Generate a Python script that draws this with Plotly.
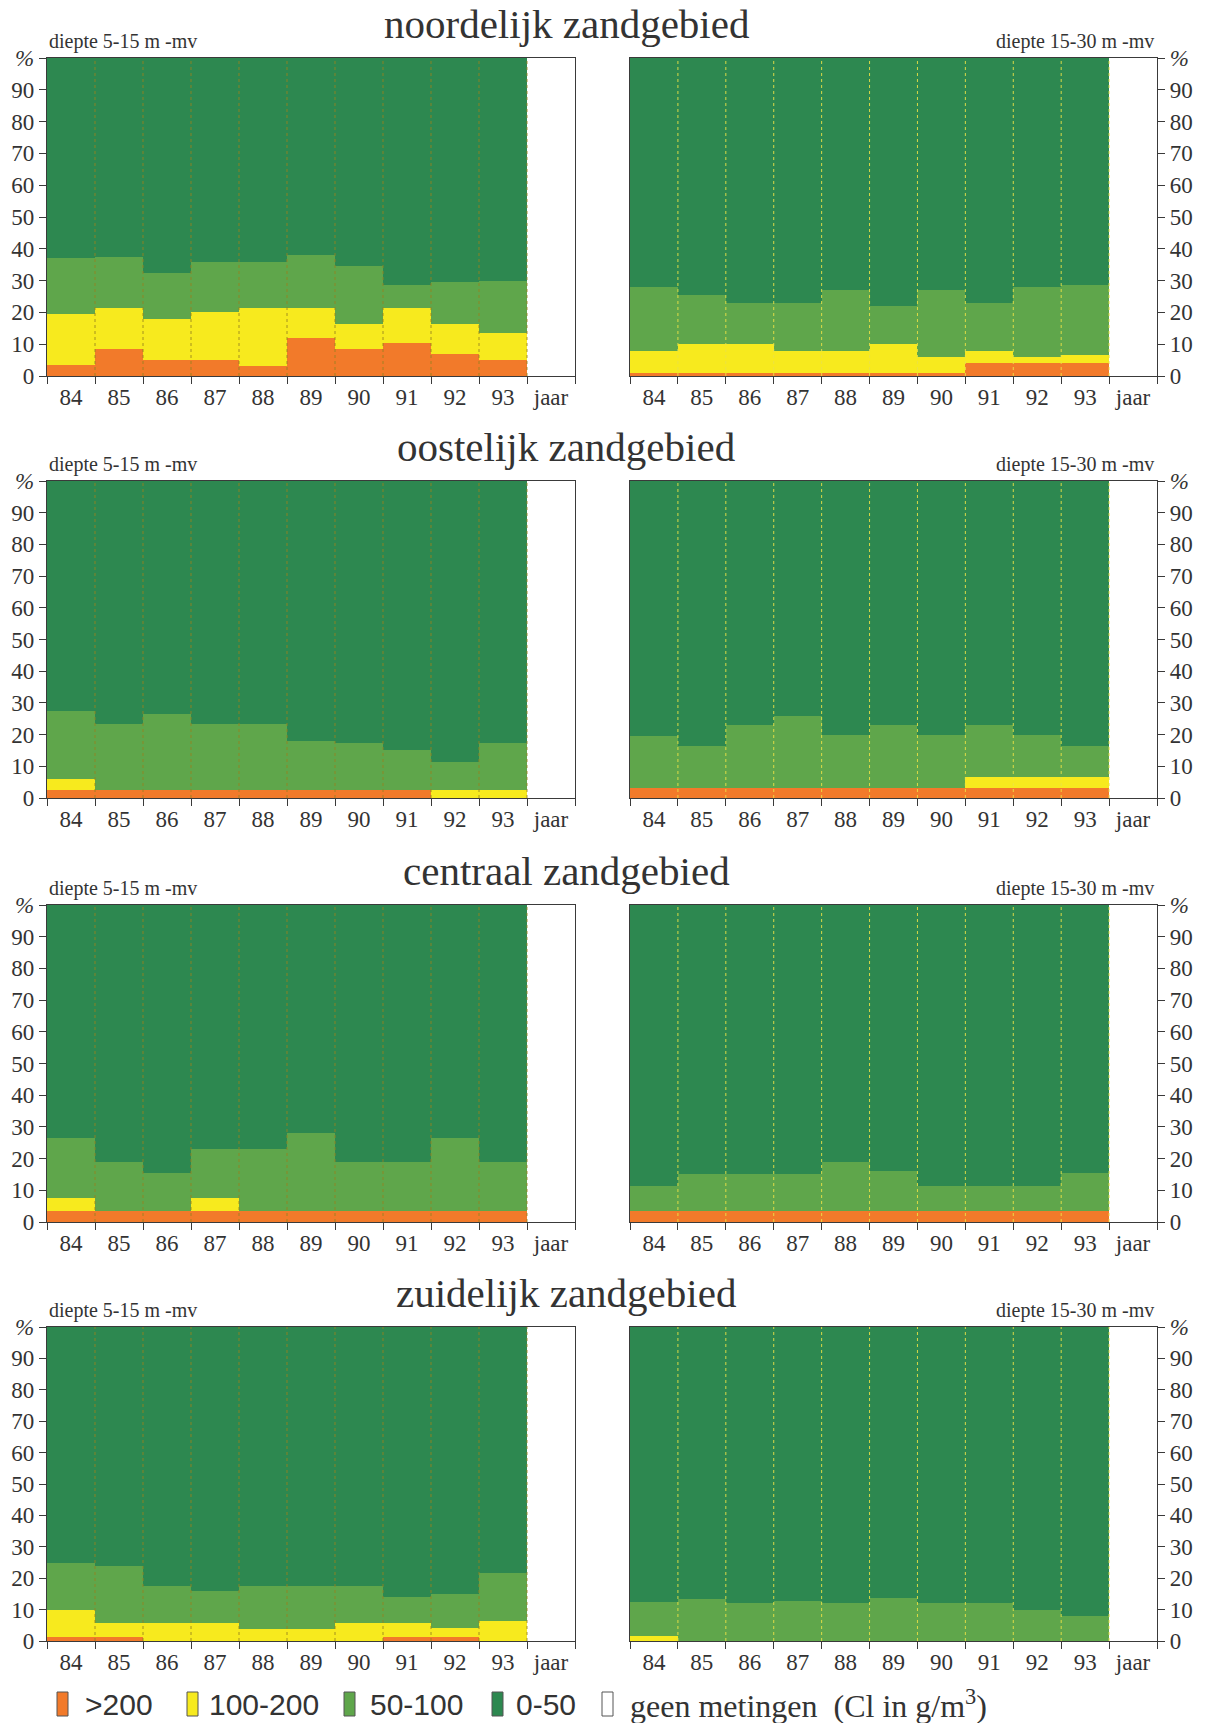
import plotly.graph_objects as go

# ---------------- data ----------------
years = ["84", "85", "86", "87", "88", "89", "90", "91", "92", "93"]
categories = years + ["jaar"]
class_labels = [">200", "100-200", "50-100", "0-50"]
class_colors = ["#F27A2A", "#F7EA1E", "#5FA64B", "#2D8850"]
region_titles = ["noordelijk zandgebied", "oostelijk zandgebied",
                 "centraal zandgebied", "zuidelijk zandgebied"]
depth_labels = ["diepte 5-15 m -mv", "diepte 15-30 m -mv"]
y_tickvals = [0, 10, 20, 30, 40, 50, 60, 70, 80, 90, 100]
y_ticktext = ["0", "10", "20", "30", "40", "50", "60", "70", "80", "90", "<i>%</i>"]

# percentages per class (segment heights), per year 84..93
# noordelijk zandgebied, 5-15 m
noord_ondiep_gt200 = [3.5, 8.5, 5, 5, 3, 12, 8.5, 10.5, 7, 5]
noord_ondiep_100_200 = [16, 13, 13, 15, 18.5, 9.5, 8, 11, 9.5, 8.5]
noord_ondiep_50_100 = [17.5, 16, 14.5, 16, 14.5, 16.5, 18, 7, 13, 16.5]
noord_ondiep_0_50 = [63, 62.5, 67.5, 64, 64, 62, 65.5, 71.5, 70.5, 70]
# noordelijk zandgebied, 15-30 m
noord_diep_gt200 = [1, 1, 1, 1, 1, 1, 1, 4, 4, 4]
noord_diep_100_200 = [7, 9, 9, 7, 7, 9, 5, 4, 2, 2.5]
noord_diep_50_100 = [20, 15.5, 13, 15, 19, 12, 21, 15, 22, 22]
noord_diep_0_50 = [72, 74.5, 77, 77, 73, 78, 73, 77, 72, 71.5]
# oostelijk zandgebied, 5-15 m
oost_ondiep_gt200 = [2.5, 2.5, 2.5, 2.5, 2.5, 2.5, 2.5, 2.5, 0, 0]
oost_ondiep_100_200 = [3.5, 0, 0, 0, 0, 0, 0, 0, 2.5, 2.5]
oost_ondiep_50_100 = [21.5, 21, 24, 21, 21, 15.5, 15, 12.5, 9, 15]
oost_ondiep_0_50 = [72.5, 76.5, 73.5, 76.5, 76.5, 82, 82.5, 85, 88.5, 82.5]
# oostelijk zandgebied, 15-30 m
oost_diep_gt200 = [3, 3, 3, 3, 3, 3, 3, 3, 3, 3]
oost_diep_100_200 = [0, 0, 0, 0, 0, 0, 0, 3.5, 3.5, 3.5]
oost_diep_50_100 = [16.5, 13.5, 20, 23, 17, 20, 17, 16.5, 13.5, 10]
oost_diep_0_50 = [80.5, 83.5, 77, 74, 80, 77, 80, 77, 80, 83.5]
# centraal zandgebied, 5-15 m
centr_ondiep_gt200 = [3.5, 3.5, 3.5, 3.5, 3.5, 3.5, 3.5, 3.5, 3.5, 3.5]
centr_ondiep_100_200 = [4, 0, 0, 4, 0, 0, 0, 0, 0, 0]
centr_ondiep_50_100 = [19, 15.5, 12, 15.5, 19.5, 24.5, 15.5, 15.5, 23, 15.5]
centr_ondiep_0_50 = [73.5, 81, 84.5, 77, 77, 72, 81, 81, 73.5, 81]
# centraal zandgebied, 15-30 m
centr_diep_gt200 = [3.5, 3.5, 3.5, 3.5, 3.5, 3.5, 3.5, 3.5, 3.5, 3.5]
centr_diep_100_200 = [0, 0, 0, 0, 0, 0, 0, 0, 0, 0]
centr_diep_50_100 = [8, 11.5, 11.5, 11.5, 15.5, 12.5, 8, 8, 8, 12]
centr_diep_0_50 = [88.5, 85, 85, 85, 81, 84, 88.5, 88.5, 88.5, 84.5]
# zuidelijk zandgebied, 5-15 m
zuid_ondiep_gt200 = [1.2, 1.2, 0, 0, 0, 0, 0, 1.2, 1.2, 0]
zuid_ondiep_100_200 = [8.8, 4.5, 5.7, 5.7, 3.7, 3.7, 5.7, 4.5, 2.9, 6.4]
zuid_ondiep_50_100 = [15, 18.3, 11.8, 10.3, 13.8, 13.8, 11.8, 8.3, 10.9, 15.1]
zuid_ondiep_0_50 = [75, 76, 82.5, 84, 82.5, 82.5, 82.5, 86, 85, 78.5]
# zuidelijk zandgebied, 15-30 m
zuid_diep_gt200 = [0, 0, 0, 0, 0, 0, 0, 0, 0, 0]
zuid_diep_100_200 = [1.5, 0, 0, 0, 0, 0, 0, 0, 0, 0]
zuid_diep_50_100 = [11, 13.3, 12, 12.6, 12, 13.8, 12, 12, 9.8, 8]
zuid_diep_0_50 = [87.5, 86.7, 88, 87.4, 88, 86.2, 88, 88, 90.2, 92]

panels = [
    [noord_ondiep_gt200, noord_ondiep_100_200, noord_ondiep_50_100, noord_ondiep_0_50],
    [noord_diep_gt200, noord_diep_100_200, noord_diep_50_100, noord_diep_0_50],
    [oost_ondiep_gt200, oost_ondiep_100_200, oost_ondiep_50_100, oost_ondiep_0_50],
    [oost_diep_gt200, oost_diep_100_200, oost_diep_50_100, oost_diep_0_50],
    [centr_ondiep_gt200, centr_ondiep_100_200, centr_ondiep_50_100, centr_ondiep_0_50],
    [centr_diep_gt200, centr_diep_100_200, centr_diep_50_100, centr_diep_0_50],
    [zuid_ondiep_gt200, zuid_ondiep_100_200, zuid_ondiep_50_100, zuid_ondiep_0_50],
    [zuid_diep_gt200, zuid_diep_100_200, zuid_diep_50_100, zuid_diep_0_50],
]

# ---------------- layout geometry (pixels) ----------------
W, H = 1207, 1723
col_px = [(47, 575), (630, 1157)]
row_px = [(58, 376), (481, 798), (905, 1222), (1327, 1641)]
SERIF = "Liberation Serif, Times New Roman, serif"
SANS = "Liberation Sans Narrow, Arial Narrow, Liberation Sans, Arial, sans-serif"
TXT = "#333333"
AX = "#3a3a3a"

fig = go.Figure()
layout = dict(
    width=W, height=H, margin=dict(l=0, r=0, t=0, b=0, pad=0),
    paper_bgcolor="white", plot_bgcolor="white",
    barmode="stack", bargap=0, showlegend=False,
    font=dict(family=SERIF, color=TXT),
)
shapes = []
annotations = []

for p, series in enumerate(panels):
    r, c = divmod(p, 2)
    k = p + 1
    xa = "x" if k == 1 else f"x{k}"
    ya = "y" if k == 1 else f"y{k}"
    xl, xr = col_px[c]
    yt, yb = row_px[r]
    for vals, name, color in zip(series, class_labels, class_colors):
        fig.add_trace(go.Bar(
            x=categories, y=list(vals) + [None], name=name,
            marker=dict(color=color, line=dict(width=0)),
            xaxis=xa, yaxis=ya, hoverinfo="x+y+name",
        ))
    layout["xaxis" if k == 1 else f"xaxis{k}"] = dict(
        domain=[xl / W, xr / W], anchor=ya, type="category",
        categoryorder="array", categoryarray=categories,
        range=[-0.5, len(categories) - 0.5], tickson="boundaries",
        ticks="outside", ticklen=7, tickcolor=AX, tickwidth=1.2,
        showline=True, linecolor=AX, linewidth=1.3, mirror=True,
        showgrid=False, zeroline=False, fixedrange=True, automargin=False,
        tickfont=dict(family=SERIF, size=23, color=TXT),
    )
    layout["yaxis" if k == 1 else f"yaxis{k}"] = dict(
        domain=[1 - yb / H, 1 - yt / H], anchor=xa,
        side="left" if c == 0 else "right",
        range=[0, 100], tickmode="array", tickvals=y_tickvals, ticktext=y_ticktext,
        ticks="outside", ticklen=7, tickcolor=AX, tickwidth=1.2,
        showline=True, linecolor=AX, linewidth=1.3, mirror=True,
        showgrid=False, zeroline=False, fixedrange=True, automargin=False,
        tickfont=dict(family=SERIF, size=23, color=TXT),
    )
    # dotted separators between the yearly columns
    sep_color = "rgba(150,130,30,0.85)" if c == 0 else "rgba(235,225,70,0.9)"
    for i in range(len(years)):
        shapes.append(dict(
            type="line", xref=xa, yref=f"{ya} domain",
            x0=i + 0.5, x1=i + 0.5, y0=0, y1=1,
            line=dict(color=sep_color, width=1, dash="dot"), layer="above",
        ))
    # depth label
    if c == 0:
        annotations.append(dict(
            text=depth_labels[0], xref="paper", yref="paper",
            x=xl / W, y=1 - (yt - 17) / H, xanchor="left", yanchor="middle",
            showarrow=False, font=dict(family=SERIF, size=20, color=TXT)))
    else:
        annotations.append(dict(
            text=depth_labels[1], xref="paper", yref="paper",
            x=(xr - 1) / W, y=1 - (yt - 17) / H, xanchor="right", yanchor="middle",
            showarrow=False, font=dict(family=SERIF, size=20, color=TXT)))

# region titles
for r, title in enumerate(region_titles):
    yt = row_px[r][0]
    annotations.append(dict(
        text=title, xref="paper", yref="paper",
        x=566 / W, y=1 - (yt - 34) / H, xanchor="center", yanchor="middle",
        showarrow=False, font=dict(family=SERIF, size=41, color=TXT)))

# ---------------- legend (bottom) ----------------
legend_box_left = [57, 187, 344, 492, 602]
legend_text_left = [83, 207, 368, 514, 628]
legend_colors = class_colors + ["white"]
legend_texts = class_labels + ["geen metingen  (Cl in g/m<sup>3</sup>)"]
box_top, box_bot = 1692, 1716
for i in range(len(legend_texts)):
    shapes.append(dict(
        type="rect", xref="paper", yref="paper",
        x0=legend_box_left[i] / W, x1=(legend_box_left[i] + 11) / W,
        y0=1 - box_bot / H, y1=1 - box_top / H,
        fillcolor=legend_colors[i], line=dict(color="#555555", width=1)))
    is_last = i == len(legend_texts) - 1
    annotations.append(dict(
        text=legend_texts[i], xref="paper", yref="paper",
        x=legend_text_left[i] / W, y=1 - 1704 / H,
        xanchor="left", yanchor="middle", showarrow=False,
        font=dict(family=SERIF if is_last else SANS,
                  size=32 if is_last else 30, color=TXT)))

layout["shapes"] = shapes
layout["annotations"] = annotations
fig.update_layout(**layout)
fig.write_html(
    "out.html",
    config={"displayModeBar": False},
    post_script="document.body.style.margin='0';document.body.style.overflow='hidden';",
)
